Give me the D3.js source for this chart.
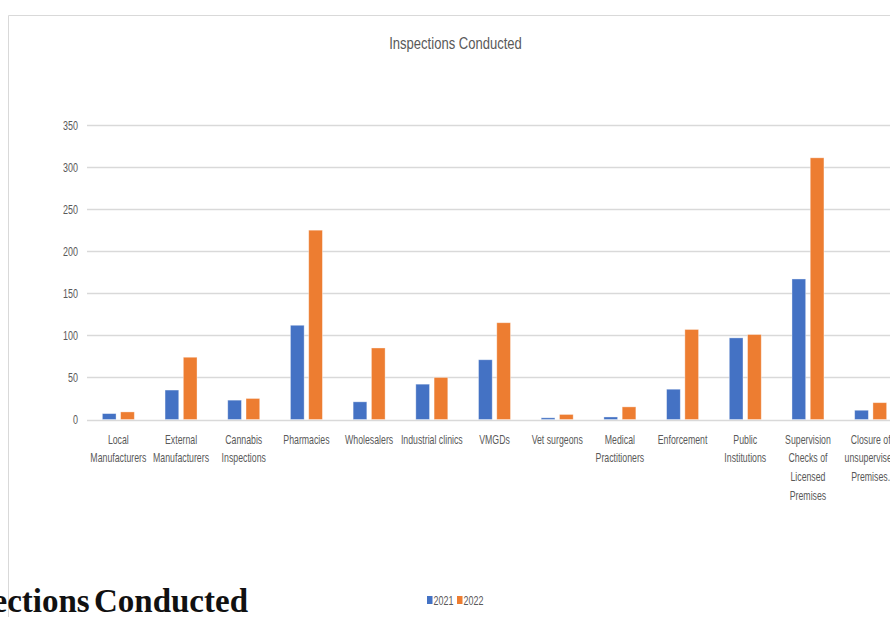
<!DOCTYPE html>
<html>
<head>
<meta charset="utf-8">
<script src="https://cdn.jsdelivr.net/npm/d3@7"></script>
<style>
  html, body { margin: 0; padding: 0; background: #fff; }
  svg { display: block; }
  .lbl { font-family: "Liberation Sans", Arial, sans-serif; fill: #595959; }
</style>
</head>
<body>
<svg id="chart" width="890" height="617"></svg>
<script>
// Inspection categories (line breaks mark how each axis label wraps)
const categories = [
  "Local\nManufacturers",
  "External\nManufacturers",
  "Cannabis\nInspections",
  "Pharmacies",
  "Wholesalers",
  "Industrial clinics",
  "VMGDs",
  "Vet surgeons",
  "Medical\nPractitioners",
  "Enforcement",
  "Public\nInstitutions",
  "Supervision\nChecks of\nLicensed\nPremises",
  "Closure of\nunsupervised\nPremises."
];
const seriesNames = ["2021", "2022"];
const values2021 = [7, 35, 23, 112, 21, 42, 71, 2, 3, 36, 97, 167, 11];
const values2022 = [9, 74, 25, 225, 85, 50, 115, 6, 15, 107, 101, 311, 20];
const yTicks = [0, 50, 100, 150, 200, 250, 300, 350];
const seriesColors = ["#4472C4", "#ED7D31"];

const svg = d3.select("#chart");
const SX = 0.69;   // horizontal squeeze applied to the narrow chart lettering

// chart frame
svg.append("line").attr("x1", 8.5).attr("x2", 890).attr("y1", 15.5).attr("y2", 15.5)
  .attr("stroke", "#d9d9d9").attr("stroke-width", 1);
svg.append("line").attr("x1", 8.5).attr("x2", 8.5).attr("y1", 15.5).attr("y2", 617)
  .attr("stroke", "#d9d9d9").attr("stroke-width", 1);

const x0 = d3.scaleBand().domain(categories).range([87, 902]).padding(0);
const x1 = d3.scaleBand().domain(seriesNames)
  .range([x0.bandwidth() * 0.245, x0.bandwidth() * 0.755]).paddingInner(0.25);
const y = d3.scaleLinear().domain([0, 350]).range([419.5, 125]);

// squeezed text helper
function sText(g, x, yPos, str, size, anchor, scale) {
  return g.append("text")
    .attr("class", "lbl")
    .attr("transform", `translate(${x},${yPos}) scale(${scale},1)`)
    .attr("text-anchor", anchor)
    .attr("font-size", size)
    .text(str);
}

// gridlines
const grid = svg.append("g");
grid.selectAll("line").data(yTicks).join("line")
  .attr("x1", 87).attr("x2", 902)
  .attr("y1", d => Math.round(y(d)) + 0.5).attr("y2", d => Math.round(y(d)) + 0.5)
  .attr("stroke", "#d9d9d9").attr("stroke-width", 1.3);

// y-axis tick labels
const yAxisG = svg.append("g");
yTicks.forEach(t => sText(yAxisG, 78, y(t) + 4.5, String(t), 13, "end", SX));

// bars
const data = categories.map((c, i) => ({ cat: c, vals: [values2021[i], values2022[i]] }));
const groups = svg.append("g").selectAll("g").data(data).join("g")
  .attr("transform", d => `translate(${x0(d.cat)},0)`);
groups.selectAll("rect")
  .data(d => d.vals.map((v, j) => ({ name: seriesNames[j], v, j })))
  .join("rect")
  .attr("x", d => x1(d.name))
  .attr("width", x1.bandwidth())
  .attr("y", d => y(d.v))
  .attr("height", d => y(0) - y(d.v))
  .attr("fill", d => seriesColors[d.j])
  .attr("stroke", "#fff").attr("stroke-opacity", 0.45).attr("stroke-width", 0.8);

// category labels
const xAxisG = svg.append("g");
categories.forEach(c => {
  const cx = x0(c) + x0.bandwidth() / 2;
  c.split("\n").forEach((line, k) => sText(xAxisG, cx, 443.5 + k * 18.8, line, 12.7, "middle", SX));
});

// title
sText(svg, 455.5, 49, "Inspections Conducted", 16.5, "middle", 0.79);

// legend
const leg = svg.append("g");
const legendX = [427, 457];
seriesNames.forEach((s, i) => {
  leg.append("rect").attr("x", legendX[i]).attr("y", 596).attr("width", 5.5).attr("height", 8)
    .attr("fill", seriesColors[i]);
  sText(leg, legendX[i] + 6.5, 605, s, 13, "start", SX);
});

// heading of the surrounding document, running off the left edge
svg.append("text")
  .attr("x", 248).attr("y", 612)
  .attr("text-anchor", "end")
  .attr("font-family", "'Liberation Serif', 'Times New Roman', serif")
  .attr("font-weight", "bold")
  .attr("font-size", 33)
  .attr("word-spacing", -4)
  .attr("fill", "#111")
  .text("Inspections Conducted");
</script>
</body>
</html>
